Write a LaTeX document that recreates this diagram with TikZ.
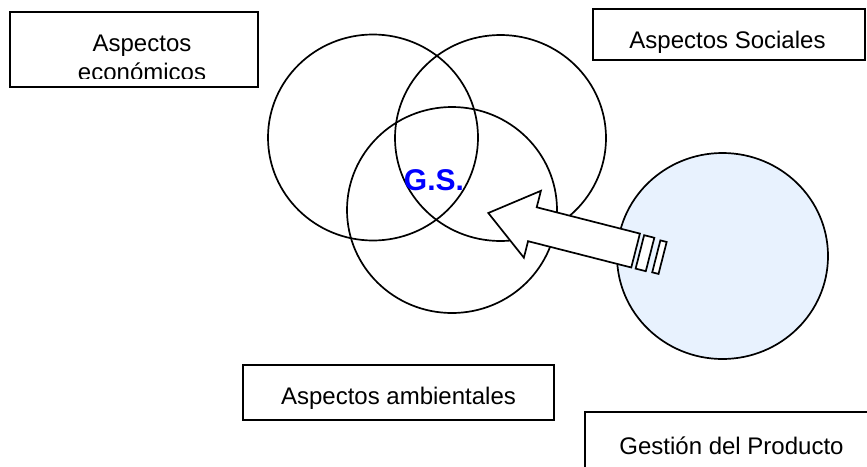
\documentclass[tikz,border=0pt]{standalone}
\usepackage{fontspec}
\setmainfont{Liberation Sans}
\definecolor{prodfill}{RGB}{232,242,254}
\definecolor{gsblue}{RGB}{0,0,255}
\tikzset{
  labelbox/.style={draw=black, line width=1.9pt, fill=white},
  venn/.style={draw=black, line width=1.7pt},
  labeltext/.style={anchor=base, inner sep=0pt, font=\fontsize{24}{28}\selectfont},
  blockarrow/.style={draw=black, line width=1.7pt, fill=white, line join=miter},
}
\begin{document}
\begin{tikzpicture}[x=1pt, y=-1pt]
\useasboundingbox (0,0) rectangle (867,466);
\clip (0,0) rectangle (867,466);

% label boxes
\draw[labelbox] (10,12) rectangle (258,87);
\draw[labelbox] (593,9.3) rectangle (865,60);
\draw[labelbox] (243,365) rectangle (554,420);
\draw[labelbox] (585.3,412.3) rectangle (880,480);

% texts
\begin{scope}
  \clip (12,14) rectangle (256,78.5);
  \node[labeltext] (econ1) at (142,51) {Aspectos};
  \node[labeltext] (econ2) at (142,80.8) {económicos};
\end{scope}
\node[labeltext] (soc) at (727.5,48.2) {Aspectos Sociales};
\node[labeltext] (amb) at (398.5,404.5) {Aspectos ambientales};
\node[labeltext] (gest) at (731.5,454.5) {Gestión del Producto};

% Venn circles
\draw[venn] (373,137.5) ellipse [x radius=105, y radius=103];
\draw[venn] (500.5,138) ellipse [x radius=105.5, y radius=103];
\draw[venn] (452,210) ellipse [x radius=105, y radius=103];

% product circle
\draw[venn, fill=prodfill] (722.5,256) ellipse [x radius=105.5, y radius=103];

% striped block arrow
\begin{scope}[shift={(488.3,213)}, rotate=-14.3]
  \draw[blockarrow] (0,0) -- (45.5,-34.5) -- (45.5,-17.5) -- (152,-17.5)
     -- (152,17.5) -- (45.5,17.5) -- (45.5,34.5) -- cycle;
  \draw[blockarrow] (156.5,-17) rectangle (167,17.5);
  \draw[blockarrow] (173.5,-16) rectangle (180,17);
\end{scope}

% G.S.
\node[anchor=base, inner sep=0pt, text=gsblue, font=\fontsize{30}{34}\selectfont\bfseries] (gs) at (434,190.5) {G.S.};
\end{tikzpicture}
\end{document}
